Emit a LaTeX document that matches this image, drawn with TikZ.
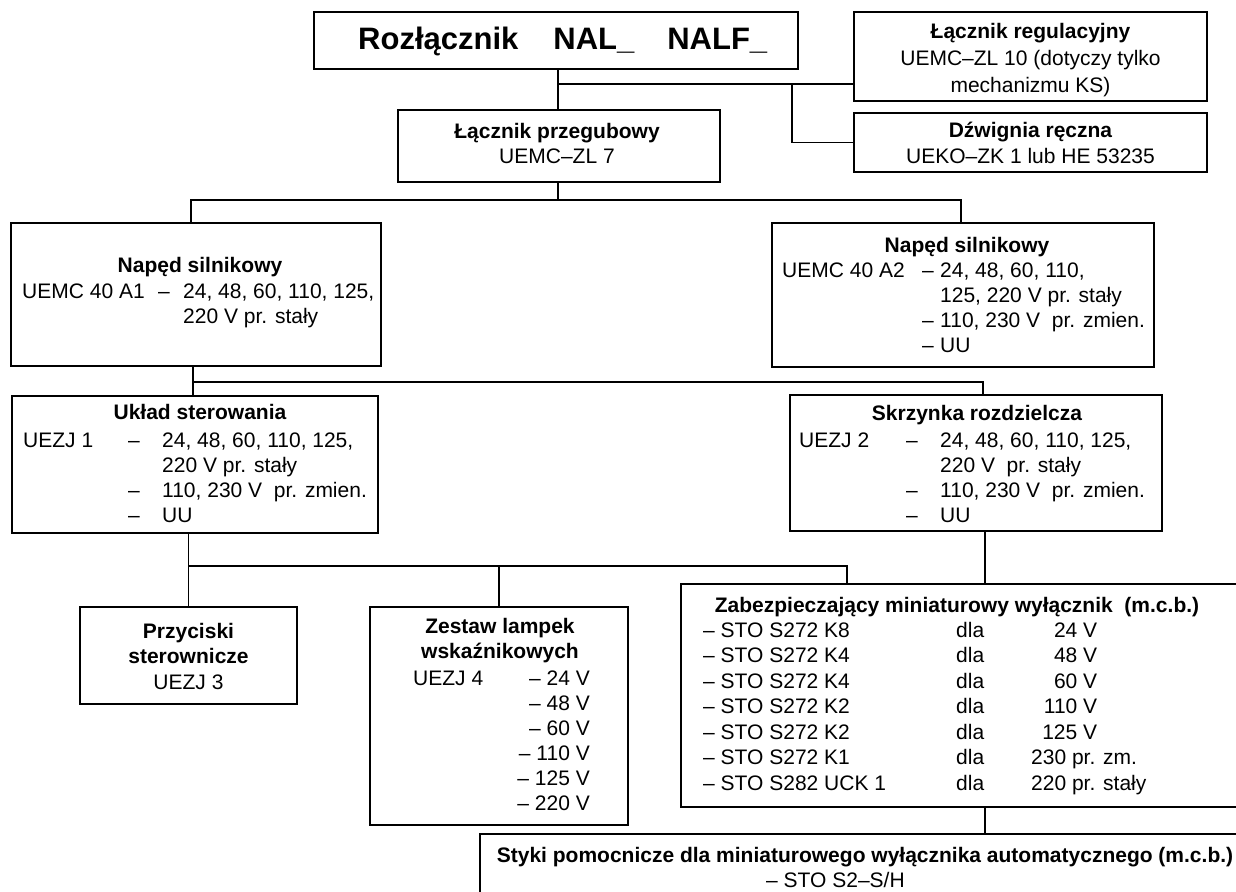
\documentclass[tikz,border=0pt]{standalone}
\usepackage{fontspec}
\setmainfont{Liberation Sans}

\begin{document}
\begin{tikzpicture}[x=1pt, y=-1pt,
  box/.style={draw, line width=2pt, inner sep=0pt},
  lnk/.style={line width=1.8pt},
  txt/.style={inner sep=0pt, font=\fontsize{21}{25.5}\selectfont},
  ttl/.style={inner sep=0pt, font=\fontsize{21}{25.5}\selectfont\bfseries}]

\useasboundingbox (0,0) rectangle (1236,891);
\clip (0,0) rectangle (1236,891);

% ramki
\node[box, minimum width=484, minimum height=57] (main) at (556,40.5) {};
\node[box, minimum width=353, minimum height=89] (reg) at (1030.5,56.5) {};
\node[box, minimum width=353, minimum height=59] (dzw) at (1030.5,142.5) {};
\node[box, minimum width=322, minimum height=72] (przeg) at (559,146) {};
\node[box, minimum width=370, minimum height=143] (napL) at (196,294.5) {};
\node[box, minimum width=382, minimum height=144] (napR) at (963,295) {};
\node[box, minimum width=366, minimum height=137] (uklad) at (195,464.5) {};
\node[box, minimum width=372, minimum height=136] (skrz) at (976,463) {};
\node[box, minimum width=217, minimum height=97] (przyc) at (188.5,655.5) {};
\node[box, minimum width=258, minimum height=218] (zest) at (499,716) {};
\node[box, minimum width=579, minimum height=223] (zabez) at (970.5,695.5) {};
\node[box, minimum width=780, minimum height=86] (styki) at (870,877) {};

% teksty
\node[ttl, anchor=base west, font=\fontsize{31}{36}\selectfont\bfseries] (mainT) at (358,49)
  {Rozłącznik\hspace{35pt}NAL\_\hspace{33pt}NALF\_};
\node[txt, anchor=base, font=\fontsize{21}{27}\selectfont] (regT) at (1030.5,39)
  {\begin{tabular}[t]{@{}c@{}}\textbf{Łącznik regulacyjny}\\UEMC–ZL 10 (dotyczy tylko\\mechanizmu KS)\end{tabular}};
\node[txt, anchor=base, font=\fontsize{21}{26}\selectfont] (dzwT) at (1030.5,137)
  {\begin{tabular}[t]{@{}c@{}}\textbf{Dźwignia ręczna}\\UEKO–ZK 1 lub HE 53235\end{tabular}};
\node[txt, anchor=base, font=\fontsize{21}{25}\selectfont] (przegT) at (557,138)
  {\begin{tabular}[t]{@{}c@{}}\textbf{Łącznik przegubowy}\\UEMC–ZL 7\end{tabular}};

\node[ttl, anchor=base] (napLT) at (200,272) {Napęd silnikowy};
\node[txt, anchor=base west, font=\fontsize{21}{25}\selectfont] (napLB) at (22,298)
  {\begin{tabular}[t]{@{}p{136pt}@{}p{25pt}@{}l@{}}
   UEMC 40 A1 & – & 24, 48, 60, 110, 125,\\
              &   & 220 V pr. stały
   \end{tabular}};

\node[ttl, anchor=base] (napRT) at (967,252) {Napęd silnikowy};
\node[txt, anchor=base west, font=\fontsize{21}{25.3}\selectfont] (napRB) at (782,277)
  {\begin{tabular}[t]{@{}p{140pt}@{}p{18pt}@{}l@{}}
   UEMC 40 A2 & – & 24, 48, 60, 110,\\
              &   & 125, 220 V pr. stały\\
              & – & 110, 230 V\ \ pr. zmien.\\
              & – & UU
   \end{tabular}};

\node[ttl, anchor=base] (ukladT) at (200,419) {Układ sterowania};
\node[txt, anchor=base west, font=\fontsize{21}{25}\selectfont] (ukladB) at (23,447)
  {\begin{tabular}[t]{@{}p{105pt}@{}p{34pt}@{}l@{}}
   UEZJ 1 & – & 24, 48, 60, 110, 125,\\
          &   & 220 V pr. stały\\
          & – & 110, 230 V\ \ pr. zmien.\\
          & – & UU
   \end{tabular}};

\node[ttl, anchor=base] (skrzT) at (977,420) {Skrzynka rozdzielcza};
\node[txt, anchor=base west, font=\fontsize{21}{25}\selectfont] (skrzB) at (799,447)
  {\begin{tabular}[t]{@{}p{107pt}@{}p{34pt}@{}l@{}}
   UEZJ 2 & – & 24, 48, 60, 110, 125,\\
          &   & 220 V\ \ pr. stały\\
          & – & 110, 230 V\ \ pr. zmien.\\
          & – & UU
   \end{tabular}};

\node[txt, anchor=base] (przycT) at (188.5,638)
  {\begin{tabular}[t]{@{}c@{}}\textbf{Przyciski}\\\textbf{sterownicze}\\UEZJ 3\end{tabular}};

\node[txt, anchor=base, font=\fontsize{21}{25}\selectfont] (zestT) at (500,633)
  {\begin{tabular}[t]{@{}c@{}}\textbf{Zestaw lampek}\\\textbf{wskaźnikowych}\end{tabular}};
\node[txt, anchor=base west] (zestA) at (413,685) {UEZJ 4};
\node[txt, anchor=base east, font=\fontsize{21}{25}\selectfont] (zestB) at (590,685)
  {\begin{tabular}[t]{@{}r@{}}– 24 V\\– 48 V\\– 60 V\\– 110 V\\– 125 V\\– 220 V\end{tabular}};

\node[ttl, anchor=base] (zabezT) at (957,612) {Zabezpieczający miniaturowy wyłącznik\ \ (m.c.b.)};
\node[txt, anchor=base west] (zabezB) at (703,637)
  {\begin{tabular}[t]{@{}p{253pt}@{}p{75pt}@{}l@{}}
   – STO S272 K8    & dla & \makebox[66pt][r]{24 V}\\
   – STO S272 K4    & dla & \makebox[66pt][r]{48 V}\\
   – STO S272 K4    & dla & \makebox[66pt][r]{60 V}\\
   – STO S272 K2    & dla & \makebox[66pt][r]{110 V}\\
   – STO S272 K2    & dla & \makebox[66pt][r]{125 V}\\
   – STO S272 K1    & dla & 230 pr. zm.\\
   – STO S282 UCK 1 & dla & 220 pr. stały
   \end{tabular}};

\node[ttl, anchor=base] (stykiT) at (865,862)
  {Styki pomocnicze dla miniaturowego wyłącznika automatycznego (m.c.b.)};
\node[txt, anchor=base west] (stykiB) at (766,887) {– STO S2–S/H};

% polaczenia
\coordinate (c1) at (558,84);
\coordinate (c2) at (792,84);
\coordinate (c3) at (191,200);
\coordinate (c4) at (961,200);
\coordinate (c5) at (193,382);
\coordinate (c6) at (983,382);
\coordinate (c7) at (188.5,566);
\coordinate (c8) at (847,566);
\coordinate (c9) at (985,0);

\draw[lnk] (c1 |- main.south) -- (c1 |- przeg.north);
\draw[lnk] (c1) -- (c1 -| reg.west);
\draw[lnk] (c2) |- (dzw.west);
\draw[lnk] (c1 |- przeg.south) -- (c1 |- c3);
\draw[lnk] (c3 |- napL.north) -- (c3) -- (c4) -- (c4 |- napR.north);
\draw[lnk] (c5 |- napL.south) -- (c5 |- uklad.north);
\draw[lnk] (c5) -- (c6) -- (c6 |- skrz.north);
\draw[lnk] (c7 |- uklad.south) -- (c7 |- przyc.north);
\draw[lnk] (c7) -- (c8) -- (c8 |- zabez.north);
\draw[lnk] (c7 -| zest.north) -- (zest.north);
\draw[lnk] (c9 |- skrz.south) -- (c9 |- zabez.north);
\draw[lnk] (c9 |- zabez.south) -- (c9 |- styki.north);

\end{tikzpicture}
\end{document}
